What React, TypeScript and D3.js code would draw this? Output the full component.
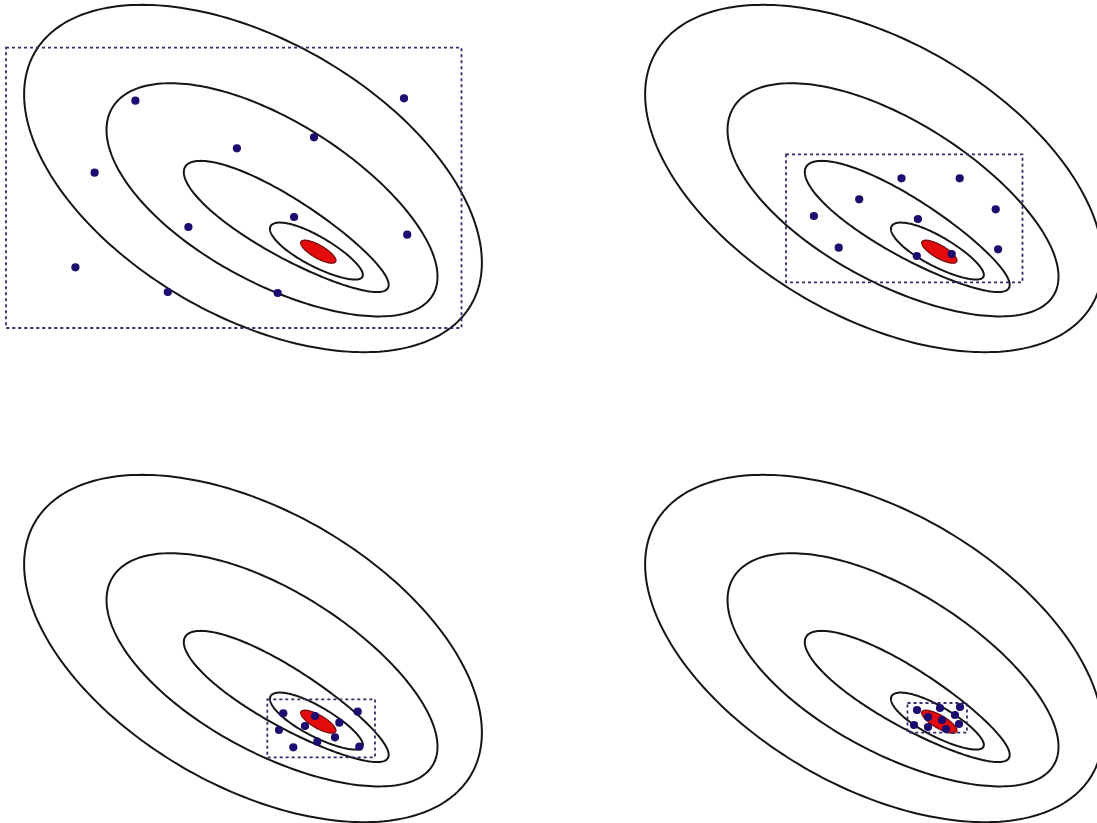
import React from "react";
import * as d3 from "d3";

const WIDTH = 1097;
const HEIGHT = 823;

// 2x2 grid of panels: left edge of each column, top edge of each row (px)
const panelColumns = [0, 621];
const panelRows = [0, 470];
const panelSize = [548, 411];

// Level contours (panel data units): centre, semi-axes, tilt (deg), egg factor
const contourCx = [253, 272.5, 286.5, 316.5];
const contourCy = [178.5, 201.5, 227.5, 251.5];
const contourA = [252, 185.6, 118.1, 52.4];
const contourB = [138, 80.8, 29, 14.9];
const contourAngle = [30, 30.2, 30.9, 28.9];
const contourEgg = [0, 0.05, 0.12, 0.08];

// Optimum region (red)
const optimumCx = [318.3];
const optimumCy = [251.7];
const optimumA = [20];
const optimumB = [6.5];
const optimumAngle = [30];

// Sample points of each iteration (panel data units)
const pointsX1 = [135.4, 404, 314, 236.9, 94.6, 294.1, 188.4, 407.2, 75.4, 167.8, 277.7];
const pointsY1 = [100.7, 98.3, 137.3, 148.3, 172.7, 217, 227, 234.7, 267.3, 292, 293];
const pointsX2 = [280.5, 338.7, 238.2, 192.9, 374.7, 296.9, 217.7, 295.8, 330.7, 377.1];
const pointsY2 = [178.3, 178.3, 199.3, 216, 209.3, 219, 247.7, 256, 254, 249.3];
const pointsX3 = [283.3, 315, 357.7, 279, 305, 339.3, 335, 317.3, 293.3, 359.3];
const pointsY3 = [243.3, 246, 241.7, 260, 256, 252.7, 267.3, 271.7, 277.3, 276.7];
const pointsX4 = [296, 319, 339, 307, 334, 321, 293, 307, 325, 338];
const pointsY4 = [240, 238, 237, 247, 245, 250, 255, 257, 259, 254];

// Search box of each iteration
const boxX0 = [6, 165, 267.3, 286.5];
const boxX1 = [461.5, 401.5, 375, 346];
const boxY0 = [47.7, 154.3, 229.3, 233];
const boxY1 = [328, 282.3, 287.3, 262.7];

const panelPointsX = [pointsX1, pointsX2, pointsX3, pointsX4];
const panelPointsY = [pointsY1, pointsY2, pointsY3, pointsY4];

function eggPoints(cx: number, cy: number, a: number, b: number, angDeg: number, egg: number) {
  const th = (angDeg * Math.PI) / 180;
  const pts: [number, number][] = [];
  const n = 240;
  for (let i = 0; i < n; i++) {
    const t = (i / n) * Math.PI * 2;
    const u = a * Math.cos(t);
    const v = b * Math.sin(t) * (1 - egg * Math.cos(t));
    pts.push([cx + u * Math.cos(th) - v * Math.sin(th), cy + u * Math.sin(th) + v * Math.cos(th)]);
  }
  return pts;
}

function Panel({ index }: { index: number }) {
  const col = panelColumns[index % 2];
  const row = panelRows[Math.floor(index / 2)];
  const x = d3.scaleLinear().domain([0, panelSize[0]]).range([col, col + panelSize[0]]);
  const y = d3.scaleLinear().domain([0, panelSize[1]]).range([row, row + panelSize[1]]);
  const line = d3
    .line<[number, number]>()
    .x((d) => x(d[0]))
    .y((d) => y(d[1]))
    .curve(d3.curveLinearClosed);

  const xs = panelPointsX[index];
  const ys = panelPointsY[index];

  return (
    <g>
      {contourCx.map((_, i) => (
        <path
          key={"c" + i}
          d={line(eggPoints(contourCx[i], contourCy[i], contourA[i], contourB[i], contourAngle[i], contourEgg[i])) || ""}
          fill="none"
          stroke="#151515"
          strokeWidth={2}
        />
      ))}
      {optimumCx.map((_, i) => (
        <path
          key={"o" + i}
          d={line(eggPoints(optimumCx[i], optimumCy[i], optimumA[i], optimumB[i], optimumAngle[i], 0)) || ""}
          fill="#e30b0b"
          stroke="#7a0d0d"
          strokeWidth={1.3}
        />
      ))}
      <rect
        x={x(boxX0[index])}
        y={y(boxY0[index])}
        width={x(boxX1[index]) - x(boxX0[index])}
        height={y(boxY1[index]) - y(boxY0[index])}
        fill="none"
        stroke="#2f2e70"
        strokeWidth={1.8}
        strokeDasharray="3 3"
      />
      {xs.map((px, i) => (
        <circle key={"p" + i} cx={x(px)} cy={y(ys[i])} r={4.1} fill="#1e0b70" />
      ))}
    </g>
  );
}

export default function App() {
  return (
    <svg
      width={WIDTH}
      height={HEIGHT}
      style={{ position: "absolute", left: 0, top: 0, background: "#fff" }}
    >
      <rect x={0} y={0} width={WIDTH} height={HEIGHT} fill="#fff" />
      {[0, 1, 2, 3].map((i) => (
        <Panel key={i} index={i} />
      ))}
    </svg>
  );
}
